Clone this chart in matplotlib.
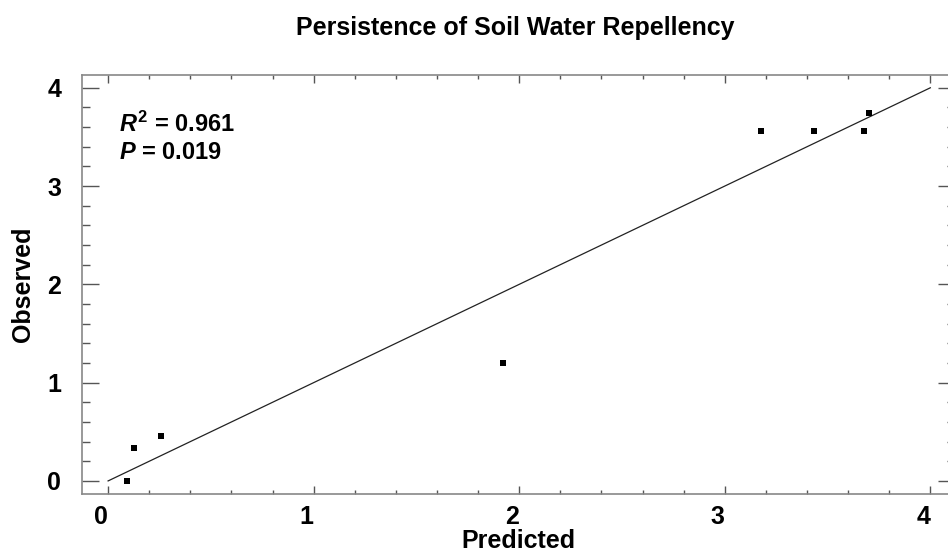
import matplotlib
matplotlib.use("Agg")
import matplotlib.pyplot as plt
from matplotlib.ticker import MultipleLocator
from matplotlib.transforms import ScaledTranslation

plt.rcParams['font.family'] = ['Liberation Sans', 'DejaVu Sans']
plt.rcParams['mathtext.fontset'] = 'custom'
plt.rcParams['mathtext.it'] = 'Liberation Sans:italic:bold'
plt.rcParams['mathtext.bf'] = 'Liberation Sans:bold'
plt.rcParams['mathtext.rm'] = 'Liberation Sans:bold'

predicted = [0.09, 0.125, 0.255, 1.92, 3.175, 3.435, 3.675, 3.70]
observed = [0.00, 0.34, 0.46, 1.20, 3.56, 3.56, 3.56, 3.74]
line_x = [0, 4]
line_y = [0, 4]
x_ticks = [0, 1, 2, 3, 4]
y_ticks = [0, 1, 2, 3, 4]

W, H = 948, 556
fig = plt.figure(figsize=(W / 100, H / 100), dpi=100)
left, right, bottom, top = 82, 955, 493.5, 75
ax = fig.add_axes([left / W, 1 - bottom / H, (right - left) / W, (bottom - top) / H])

ax.plot(line_x, line_y, color='#222222', lw=0.9)
ax.plot(predicted, observed, 's', color='black', ms=4.8, mec='black', mew=0)

ax.set_xlim(-0.127, 4.12)
ax.set_ylim(-0.128, 4.13)
ax.set_xticks(x_ticks)
ax.set_yticks(y_ticks)
ax.xaxis.set_minor_locator(MultipleLocator(0.2))
ax.yaxis.set_minor_locator(MultipleLocator(0.2))

for s in ax.spines.values():
    s.set_color('#888888')
    s.set_linewidth(1.2)

ax.tick_params(axis='x', which='major', direction='in', length=6, width=1, color='#555555',
               top=True, labelsize=18, pad=8)
ax.tick_params(axis='x', which='minor', direction='in', length=3.2, width=1, color='#555555', top=True)
ax.tick_params(axis='y', which='major', direction='in', length=12, width=1, color='#555555',
               right=True, labelsize=18, pad=15)
ax.tick_params(axis='y', which='minor', direction='in', length=6, width=1, color='#555555', right=True)
shift = ScaledTranslation(-7 / 100, 0, fig.dpi_scale_trans)
for lab in ax.get_xticklabels():
    lab.set_fontweight('bold')
    lab.set_transform(lab.get_transform() + shift)
for lab in ax.get_yticklabels():
    lab.set_fontweight('bold')

ax.set_xlabel('Predicted', fontsize=18, fontweight='bold', labelpad=0)
ax.set_ylabel('Observed', fontsize=18, fontweight='bold', labelpad=9)

fig.text(515 / W, 1 - 28 / H, 'Persistence of Soil Water Repellency', ha='center', va='center',
         fontsize=18, fontweight='bold')

ax.text(0.055, 3.55, r'$\mathit{R}^{2}$' + ' = 0.961', fontsize=17, fontweight='bold',
        va='baseline', ha='left')
ax.text(0.055, 3.275, r'$\mathit{P}$' + ' = 0.019', fontsize=17, fontweight='bold',
        va='baseline', ha='left')

fig.savefig('out.png', dpi=100)
